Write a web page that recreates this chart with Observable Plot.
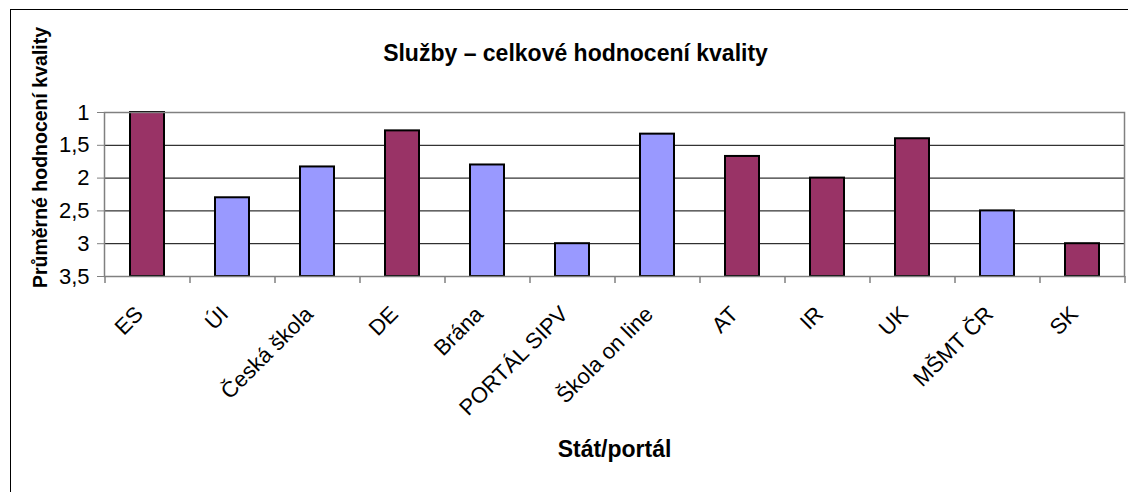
<!DOCTYPE html>
<html>
<head>
<meta charset="utf-8">
<script src="https://cdn.jsdelivr.net/npm/d3@7"></script>
<script src="https://cdn.jsdelivr.net/npm/@observablehq/plot@0.6"></script>
<style>
  html, body { margin: 0; padding: 0; background: white; overflow: hidden; }
  #chart { width: 1128px; height: 492px; }
</style>
</head>
<body>
<div id="chart"></div>
<script>
const categories = ["ES", "ÚI", "Česká škola", "DE", "Brána", "PORTÁL SIPV", "Škola on line", "AT", "IR", "UK", "MŠMT ČR", "SK"];
const values = [1.0, 2.3, 1.83, 1.28, 1.8, 3.0, 1.33, 1.67, 2.0, 1.4, 2.5, 3.0];
const groups = ["stát", "portál", "portál", "stát", "portál", "portál", "portál", "stát", "stát", "stát", "portál", "stát"];
const yTicks = [1, 1.5, 2, 2.5, 3, 3.5];
const title = "Služby – celkové hodnocení kvality";
const yLabel = "Průměrné hodnocení kvality";
const xLabel = "Stát/portál";

const data = categories.map((c, i) => ({cat: c, value: values[i], group: groups[i]}));

const W = 1128, H = 492, mL = 104, mR = 4, mT = 112, mB = 216;
const bw = (W - mL - mR) / categories.length;
const pxPerUnit = (H - mT - mB) / (yTicks[yTicks.length - 1] - yTicks[0]);
const font = "'Liberation Sans', Arial, sans-serif";
const fmt = d => String(d).replace(".", ",");

const chart = Plot.plot({
  width: W,
  height: H,
  marginLeft: mL,
  marginRight: mR,
  marginTop: mT,
  marginBottom: mB,
  style: {fontFamily: font, fontSize: "22px", color: "black", background: "white", overflow: "visible"},
  x: {domain: categories, paddingInner: 0.6, paddingOuter: 0.3, label: null},
  y: {domain: [1, 3.5], reverse: true, label: null},
  color: {domain: ["stát", "portál"], range: ["#993366", "#9999FF"]},
  marks: [
    Plot.frame({stroke: "black", strokeWidth: 1, insetLeft: -94, insetTop: -103, insetRight: -30, insetBottom: -(mB + 30)}),
    Plot.gridY(yTicks.slice(1, -1), {stroke: "black", strokeOpacity: 1, strokeWidth: 1}),
    Plot.barY(data, {x: "cat", y1: 3.5, y2: "value", fill: "group", stroke: "black", strokeWidth: 2}),
    Plot.frame({stroke: "#808080", strokeWidth: 1.5}),
    Plot.ruleX(categories, {x: d => d, dx: -bw / 2, y1: 3.5, y2: 3.5 + 7 / pxPerUnit, stroke: "#808080", strokeWidth: 1.5}),
    Plot.ruleX(categories.slice(-1), {x: d => d, dx: bw / 2, y1: 3.5, y2: 3.5 + 7 / pxPerUnit, stroke: "#808080", strokeWidth: 1.5}),
    Plot.axisY({ticks: yTicks, tickFormat: fmt, tickSize: 7, tickPadding: 8, stroke: "#808080", fill: "black", fontSize: 22, label: null}),
    Plot.axisX({tickRotate: -45, tickSize: 0, tickPadding: 34, dx: -8, fill: "black", fontSize: 22, label: null}),
    Plot.text([title], {text: d => d, frameAnchor: "top", dx: 575 - (mL + (W - mL - mR) / 2), dy: -68, fontWeight: "bold", fontSize: 23, fill: "black"}),
    Plot.text([yLabel], {text: d => d, frameAnchor: "left", textAnchor: "middle", rotate: -90, dx: -64, dy: -37, fontWeight: "bold", fontSize: 19.5, fill: "black"}),
    Plot.text([xLabel], {text: d => d, frameAnchor: "bottom", dy: 180, fontWeight: "bold", fontSize: 23, fill: "black"})
  ]
});
document.getElementById("chart").appendChild(chart);
</script>
</body>
</html>
